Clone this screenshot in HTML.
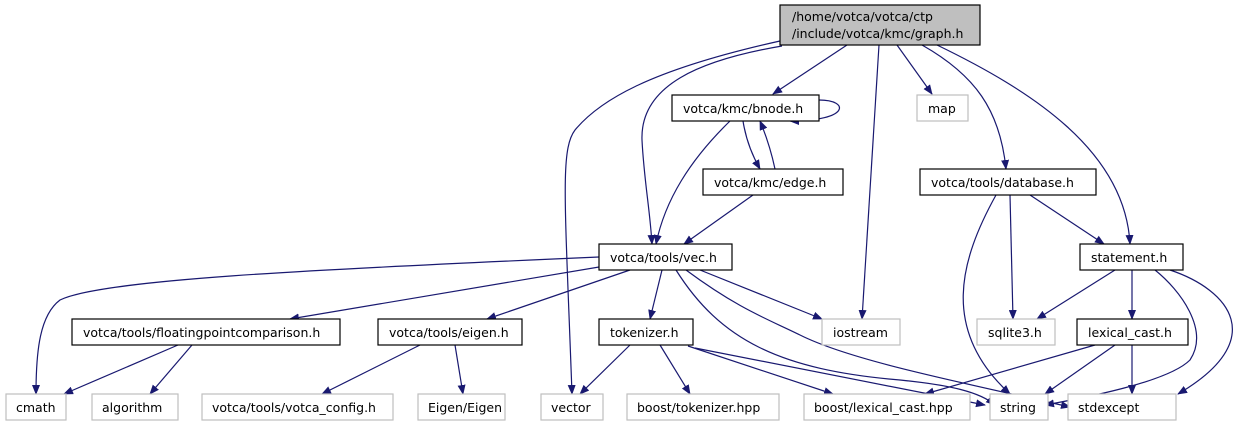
<!DOCTYPE html>
<html><head><meta charset="utf-8"><style>
body{margin:0;background:#fff;width:1256px;height:425px;overflow:hidden}
svg text{font-family:"DejaVu Sans","Liberation Sans",sans-serif;font-size:12.5px;fill:#000}
.e{fill:none;stroke:#191970;stroke-width:1.2}
.b{fill:#fff;stroke:#000;stroke-width:1.2}
.g{fill:#fff;stroke:#bfbfbf;stroke-width:1.2}
</style></head><body>
<svg width="1256" height="425" viewBox="0 0 1256 425" xmlns="http://www.w3.org/2000/svg">
<defs><marker id="a" markerWidth="10" markerHeight="8" refX="9" refY="4" orient="auto" markerUnits="userSpaceOnUse"><path d="M0,0 L10,4 L0,8 z" fill="#191970"/></marker></defs>
<g class="e" marker-end="url(#a)">
<path d="M780,41 C650,70 600,100 575,130 C560,150 565,200 572,394"/>
<path d="M782,46 C700,60 640,85 642,140 C644,180 650,210 652,244"/>
<path d="M847,45 L773,94"/>
<path d="M879,45 L862,319"/>
<path d="M897,45 L932,94"/>
<path d="M922,45 C975,75 1000,110 1006,169"/>
<path d="M937,45 C1030,90 1125,150 1130,244"/>
<path d="M819,100 C850,100 850,121 790,121"/>
<path d="M743,121 C746,140 752,155 760,169"/>
<path d="M775,169 C772,155 768,140 760,121"/>
<path d="M730,121 C690,160 665,200 656,244"/>
<path d="M753,195 L684,244"/>
<path d="M599,257 C300,270 100,280 60,300 C40,315 36,350 36,394"/>
<path d="M605,266 L290,319"/>
<path d="M630,270 L487,319"/>
<path d="M662,270 L650,319"/>
<path d="M700,270 L822,319"/>
<path d="M676,270 C720,340 780,370 900,380 C950,385 980,392 995,405"/>
<path d="M686,270 C740,310 770,320 800,335 C850,360 950,380 1070,407"/>
<path d="M630,345 L580,394"/>
<path d="M660,345 L690,394"/>
<path d="M688,346 L833,394"/>
<path d="M695,348 L985,405"/>
<path d="M178,345 L64,394"/>
<path d="M192,345 L150,394"/>
<path d="M420,345 L322,394"/>
<path d="M455,345 L463,394"/>
<path d="M996,195 C960,260 940,330 1010,394"/>
<path d="M1010,195 L1013,319"/>
<path d="M1030,195 L1104,244"/>
<path d="M1115,270 L1037,319"/>
<path d="M1132,270 L1132,319"/>
<path d="M1155,270 C1180,290 1210,330 1190,360 C1170,380 1100,395 1045,405"/>
<path d="M1170,270 C1230,290 1270,340 1178,394"/>
<path d="M1095,345 L925,394"/>
<path d="M1115,345 L1045,394"/>
<path d="M1132,345 L1132,394"/>
</g>
<rect x="780" y="5" width="200" height="40" fill="#bfbfbf" stroke="#000" stroke-width="1.2"/>
<text x="792" y="21">/home/votca/votca/ctp</text>
<text x="792" y="38">/include/votca/kmc/graph.h</text>
<rect class="b" x="672" y="95" width="147" height="26"/><text x="683" y="113">votca/kmc/bnode.h</text>
<rect class="g" x="917" y="95" width="51" height="26"/><text x="928" y="113">map</text>
<rect class="b" x="703" y="169" width="140" height="26"/><text x="714" y="187">votca/kmc/edge.h</text>
<rect class="b" x="920" y="169" width="176" height="26"/><text x="931" y="187">votca/tools/database.h</text>
<rect class="b" x="599" y="244" width="133" height="26"/><text x="610" y="262">votca/tools/vec.h</text>
<rect class="b" x="1080" y="244" width="103" height="26"/><text x="1091" y="262">statement.h</text>
<rect class="b" x="72" y="319" width="268" height="26"/><text x="83" y="337">votca/tools/floatingpointcomparison.h</text>
<rect class="b" x="378" y="319" width="144" height="26"/><text x="389" y="337">votca/tools/eigen.h</text>
<rect class="b" x="599" y="319" width="94" height="26"/><text x="610" y="337">tokenizer.h</text>
<rect class="g" x="822" y="319" width="78" height="26"/><text x="833" y="337">iostream</text>
<rect class="g" x="977" y="319" width="78" height="26"/><text x="988" y="337">sqlite3.h</text>
<rect class="b" x="1077" y="319" width="111" height="26"/><text x="1088" y="337">lexical_cast.h</text>
<rect class="g" x="6" y="394" width="60" height="26"/><text x="16" y="412">cmath</text>
<rect class="g" x="92" y="394" width="86" height="26"/><text x="102" y="412">algorithm</text>
<rect class="g" x="202" y="394" width="191" height="26"/><text x="212" y="412">votca/tools/votca_config.h</text>
<rect class="g" x="418" y="394" width="87" height="26"/><text x="428" y="412">Eigen/Eigen</text>
<rect class="g" x="541" y="394" width="62" height="26"/><text x="551" y="412">vector</text>
<rect class="g" x="627" y="394" width="152" height="26"/><text x="637" y="412">boost/tokenizer.hpp</text>
<rect class="g" x="804" y="394" width="166" height="26"/><text x="814" y="412">boost/lexical_cast.hpp</text>
<rect class="g" x="990" y="394" width="58" height="26"/><text x="1000" y="412">string</text>
<rect class="g" x="1068" y="394" width="108" height="26"/><text x="1078" y="412">stdexcept</text>
</svg>
</body></html>
